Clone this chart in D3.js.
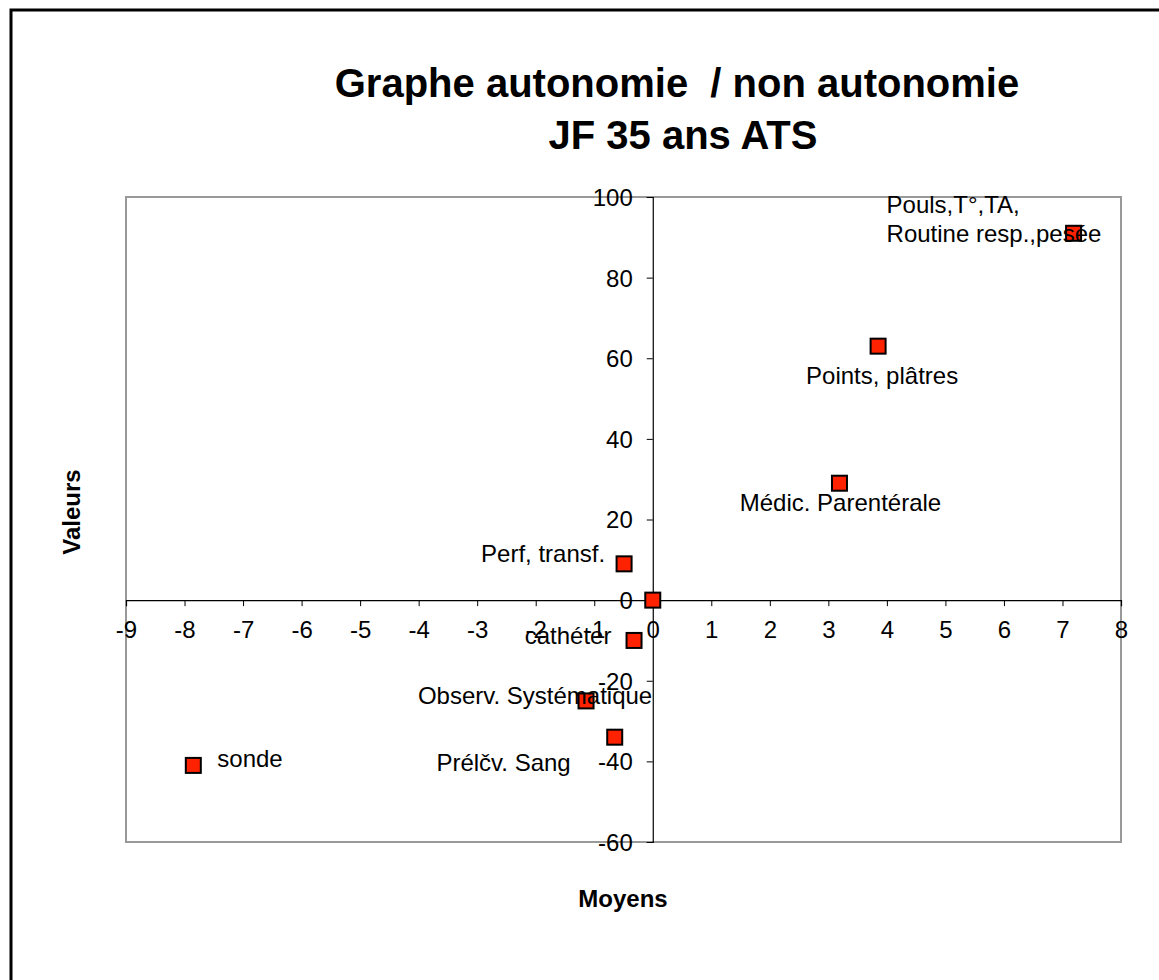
<!DOCTYPE html>
<html>
<head>
<meta charset="utf-8">
<script src="https://d3js.org/d3.v7.min.js"></script>
<style>
  body { margin: 0; background: #fff; }
  text { font-family: "Liberation Sans", Arial, sans-serif; fill: #000; }
</style>
</head>
<body>
<svg width="1159" height="980"></svg>
<script>
  // Data
  const labels = ['Pouls,T°,TA,|Routine resp.,pesée', 'Points, plâtres', 'Médic. Parentérale', 'Perf, transf.', '',
                  'cathéter', 'Observ. Systématique', 'Prélčv. Sang', 'sonde'];
  const xValues = [7.19, 3.85, 3.19, -0.49, 0, -0.32, -1.14, -0.65, -7.85];
  const yValues = [91, 63, 29, 9, 0, -10, -25, -34, -41];
  const xTicks = d3.range(-9, 9);
  const yTicks = [-60, -40, -20, 0, 20, 40, 60, 80, 100];

  // label placement relative to the marker: [dx, dy(baseline), anchor]
  const labelPlace = [[-187, -20, 'start'], [4, 38, 'middle'], [1, 28, 'middle'], [-19, -2, 'end'], [0, 0, 'start'],
                      [-66, 4, 'middle'], [-51, 3, 'middle'], [-44, 34, 'end'], [24, 2, 'start']];

  const svg = d3.select('svg');
  const plot = {left: 126, top: 197, right: 1121, bottom: 842};
  const fmt = d => String(d);

  // outer frame (only top/left visible)
  svg.append('rect').attr('x', 11).attr('y', 10).attr('width', 1200).attr('height', 1100)
    .attr('fill', 'none').attr('stroke', '#000').attr('stroke-width', 3);

  const x = d3.scaleLinear().domain([-9, 8]).range([plot.left, plot.right]);
  const y = d3.scaleLinear().domain([-60, 100]).range([plot.bottom, plot.top]);

  // plot area border
  svg.append('rect').attr('x', plot.left).attr('y', plot.top)
    .attr('width', plot.right - plot.left).attr('height', plot.bottom - plot.top)
    .attr('fill', 'none').attr('stroke', '#999').attr('stroke-width', 2);

  // title
  const title = svg.append('text').attr('text-anchor', 'middle')
    .style('font-size', '40px').style('font-weight', 'bold').style('white-space', 'pre');
  title.append('tspan').attr('x', 677).attr('y', 97).text('Graphe autonomie  / non autonomie');
  title.append('tspan').attr('x', 683).attr('y', 149).text('JF 35 ans ATS');

  // axes through the origin
  const xAxis = d3.axisBottom(x).tickValues(xTicks).tickSize(6).tickFormat(fmt);
  const yAxis = d3.axisLeft(y).tickValues(yTicks).tickSize(6).tickFormat(fmt);

  const gx = svg.append('g').attr('transform', 'translate(0,' + y(0) + ')').call(xAxis);
  const gy = svg.append('g').attr('transform', 'translate(' + x(0) + ',0)').call(yAxis);
  [gx, gy].forEach(g => {
    g.attr('font-size', null).attr('font-family', null);
    g.select('.domain').attr('stroke', '#000').attr('stroke-width', 1.2);
    g.selectAll('.tick line').attr('stroke', '#000');
    g.selectAll('.tick text').style('font-size', '24px').attr('fill', '#000');
  });
  gx.selectAll('.tick text').attr('dy', null).attr('y', 38);
  gy.selectAll('.tick text').attr('x', -20).attr('dy', '0.35em');

  // axis titles
  svg.append('text').attr('x', 623).attr('y', 907).attr('text-anchor', 'middle')
    .style('font-size', '24px').style('font-weight', 'bold').text('Moyens');
  svg.append('text').attr('transform', 'translate(80,512) rotate(-90)').attr('text-anchor', 'middle')
    .style('font-size', '24px').style('font-weight', 'bold').text('Valeurs');

  // points
  const pts = xValues.map((v, i) => ({x: v, y: yValues[i], label: labels[i], place: labelPlace[i]}));

  svg.selectAll('.pt').data(pts).enter().append('rect')
    .attr('class', 'pt')
    .attr('x', d => x(d.x) - 7.5).attr('y', d => y(d.y) - 7.5)
    .attr('width', 15).attr('height', 15)
    .attr('fill', '#ff2200').attr('stroke', '#000').attr('stroke-width', 2);

  const lbl = svg.selectAll('.lbl').data(pts).enter().append('text')
    .attr('class', 'lbl')
    .attr('text-anchor', d => d.place[2])
    .style('font-size', '24px');
  lbl.each(function(d) {
    const t = d3.select(this);
    d.label.split('|').forEach((s, k) => {
      t.append('tspan').attr('x', x(d.x) + d.place[0])
        .attr('y', y(d.y) + d.place[1] + k * 29).text(s);
    });
  });
</script>
</body>
</html>
